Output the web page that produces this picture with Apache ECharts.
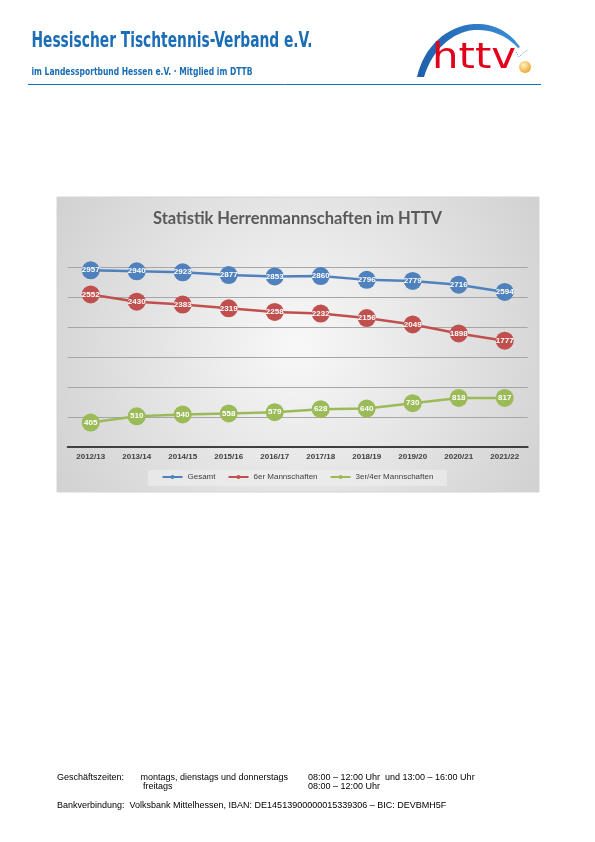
<!DOCTYPE html>
<html>
<head>
<meta charset="utf-8">
<script src="https://cdn.jsdelivr.net/npm/echarts@6/dist/echarts.min.js"></script>
<style>
  html, body { margin: 0; padding: 0; background: #fff; }
  #page { width: 595px; height: 842px; }
</style>
</head>
<body>
<div id="page"></div>
<script>
// seasons on the x axis
const categories = ["2012/13", "2013/14", "2014/15", "2015/16", "2016/17", "2017/18", "2018/19", "2019/20", "2020/21", "2021/22"];
// team counts
const gesamt = [2957, 2940, 2923, 2877, 2853, 2860, 2796, 2779, 2716, 2594];
const sechserTeams = [2552, 2430, 2383, 2319, 2258, 2232, 2156, 2049, 1898, 1777];
const dreiViererTeams = [405, 510, 540, 558, 579, 628, 640, 730, 818, 817];
const seriesNames = ["Gesamt", "6er Mannschaften", "3er/4er Mannschaften"];
const yMin = 0, yMax = 3000, yStep = 500;

const colors = ["#4f81bd", "#c0504d", "#9bbb59"];
const headerBlue = "#1b6db5";
const narrow = "'Liberation Sans Narrow', 'DejaVu Sans Condensed', Roboto, sans-serif";
const sans = "'Liberation Sans', Arial, sans-serif";

const ctx = document.createElement("canvas").getContext("2d");
const fitScale = (text, font, width) => { ctx.font = font; return width / ctx.measureText(text).width; };

// sample a cubic bezier into points (for the logo swoosh)
const bezier = (p0, p1, p2, p3, n) => Array.from({ length: n + 1 }, (_, k) => {
  const t = k / n, u = 1 - t;
  return [0, 1].map(j => u * u * u * p0[j] + 3 * u * u * t * p1[j] + 3 * u * t * t * p2[j] + t * t * t * p3[j]);
});
const swoosh = [
  ...bezier([417, 77], [424, 46], [447, 26], [474, 24], 16),
  ...bezier([474, 24], [494, 23], [510, 32], [520, 47], 12),
  ...bezier([518, 48], [507, 36], [492, 29], [474, 30], 12),
  ...bezier([474, 30], [452, 32], [432, 50], [424, 77], 16),
];

const chart = echarts.init(document.getElementById("page"), null, { renderer: "canvas" });

const headerTitle = "Hessischer Tischtennis-Verband e.V.";
const headerSub = "im Landessportbund Hessen e.V. · Mitglied im DTTB";
const footerRows = [
  { x: 57, y: 777.5, text: "Geschäftszeiten:" },
  { x: 140.5, y: 777.5, text: "montags, dienstags und donnerstags" },
  { x: 308, y: 777.5, text: "08:00 – 12:00 Uhr  und 13:00 – 16:00 Uhr" },
  { x: 143, y: 786.5, text: "freitags" },
  { x: 308, y: 786.5, text: "08:00 – 12:00 Uhr" },
  { x: 57, y: 806, text: "Bankverbindung:  Volksbank Mittelhessen, IBAN: DE14513900000015339306 – BIC: DEVBMH5F" },
];

const graphic = [
  // chart frame with soft radial shading
  { type: "rect", z: -10, shape: { x: 57, y: 197, width: 482, height: 295 },
    style: { fill: new echarts.graphic.RadialGradient(0.5, 0.5, 1, [{ offset: 0, color: "#f8f8f8" }, { offset: 1, color: "#cfcfcf" }]), stroke: "#d4d4d4", lineWidth: 1 } },
  { type: "rect", z: -9, shape: { x: 148, y: 470, width: 299, height: 16 }, style: { fill: "rgba(240,240,240,0.55)" } },
  // header
  { type: "text", x: 31.5, y: 41.5, scaleX: fitScale(headerTitle, `bold 21px ${narrow}`, 281),
    style: { text: headerTitle, fontSize: 21, fontWeight: "bold", fontFamily: narrow, fill: headerBlue, verticalAlign: "middle" } },
  { type: "text", x: 31.5, y: 72, scaleX: fitScale(headerSub, `bold 10.5px ${narrow}`, 221),
    style: { text: headerSub, fontSize: 10.5, fontWeight: "bold", fontFamily: narrow, fill: headerBlue, verticalAlign: "middle" } },
  { type: "line", shape: { x1: 28, y1: 84.5, x2: 541, y2: 84.5 }, style: { stroke: headerBlue, lineWidth: 1 } },
  // logo
  { type: "polygon", shape: { points: swoosh },
    style: { fill: new echarts.graphic.LinearGradient(0, 0, 1, 0, [{ offset: 0, color: "#1e5fae" }, { offset: 1, color: "#3b8fd6" }]) } },
  { type: "text", x: 432, y: 59, scaleX: fitScale("httv", "36px 'DejaVu Sans'", 84),
    style: { text: "httv", fontSize: 36, fontFamily: "'DejaVu Sans'", fill: "#e2001a", verticalAlign: "middle" } },
  { type: "polyline", shape: { points: [[516, 52], [519, 57], [523, 53], [528, 50]] }, style: { stroke: "#4a90d0", lineWidth: 0.8, lineDash: [1.2, 1.2], fill: null } },
  { type: "circle", shape: { cx: 525, cy: 67, r: 6 },
    style: { fill: new echarts.graphic.RadialGradient(0.4, 0.35, 0.7, [{ offset: 0, color: "#fff4c4" }, { offset: 1, color: "#efa024" }]) } },
  // footer
  ...footerRows.map(r => ({ type: "text", x: r.x, y: r.y,
    style: { text: r.text, fontSize: 9, fontFamily: sans, fill: "#000", verticalAlign: "middle" } })),
];

const seriesData = [gesamt, sechserTeams, dreiViererTeams];

chart.setOption({
  animation: false,
  color: colors,
  title: { text: "Statistik Herrenmannschaften im HTTV", left: "center", top: 205,
    textStyle: { fontFamily: "Lato, 'Open Sans', sans-serif", fontWeight: "bold", fontSize: 16.5, color: "#595959" } },
  legend: { left: 161.5, top: 473, padding: 0, itemWidth: 20, itemHeight: 5, itemGap: 12, data: seriesNames,
    textStyle: { fontSize: 8, color: "#404040", fontFamily: sans } },
  grid: { left: 67.7, right: 67.3, top: 267.7, height: 179, containLabel: false },
  xAxis: { type: "category", data: categories, boundaryGap: true,
    axisLine: { lineStyle: { color: "#404040", width: 2 } }, axisTick: { show: false },
    axisLabel: { margin: 6, fontSize: 8, fontWeight: "bold", color: "#404040", fontFamily: sans } },
  yAxis: { type: "value", min: yMin, max: yMax, interval: yStep, axisLabel: { show: false },
    axisLine: { show: false }, axisTick: { show: false },
    splitLine: { lineStyle: { color: "#a6a6a6", width: 1 } } },
  graphic,
  series: seriesNames.map((name, i) => ({
    name, type: "line", data: seriesData[i], symbol: "circle", symbolSize: 18,
    lineStyle: { width: 2.5, color: colors[i] }, itemStyle: { color: colors[i] },
    label: { show: true, position: "inside", color: "#fff", fontSize: 8, fontWeight: "bold", fontFamily: sans },
  })),
});
</script>
</body>
</html>
